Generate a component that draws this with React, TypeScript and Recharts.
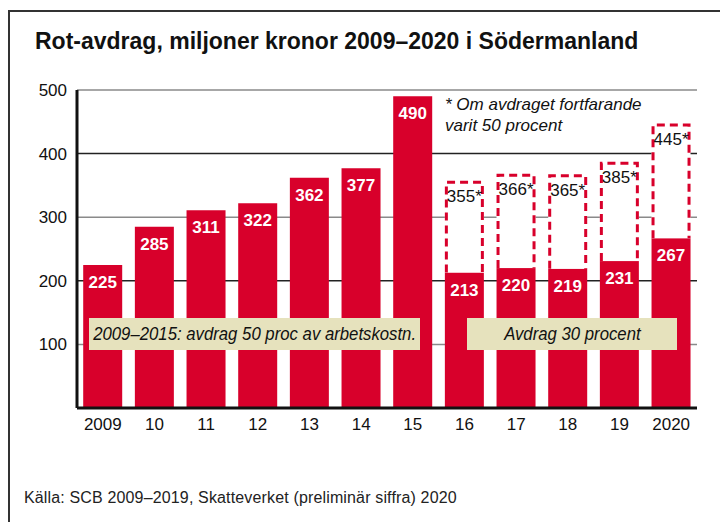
import { Bar, BarChart, CartesianGrid, LabelList, XAxis, YAxis } from "recharts";

const years = ["2009", "10", "11", "12", "13", "14", "15", "16", "17", "18", "19", "2020"];
const deduction = [225, 285, 311, 322, 362, 377, 490, 213, 220, 219, 231, 267];
// value if the deduction had stayed at 50 percent
const fiftyPercent = [null, null, null, null, null, null, null, 355, 366, 365, 385, 445];
const yTicks = [100, 200, 300, 400, 500];

const RED = "#d8002b";
const BEIGE = "#e6e2bd";
const FONT = "'Liberation Sans', Arial, Helvetica, sans-serif";

const chartData = years.map((year, i) => ({
  year,
  value: deduction[i],
  extra: fiftyPercent[i] == null ? 0 : (fiftyPercent[i] as number) - deduction[i],
  hyp: fiftyPercent[i],
}));

function DashedBox(props: any) {
  const { x, y, width, height, payload } = props;
  if (!payload || payload.hyp == null) return null;
  const l = x + 1.5;
  const r = x + width - 1.5;
  const b = y + height;
  return (
    <g>
      <rect x={x} y={y} width={width} height={height} fill="#fff" />
      <path
        d={`M${l},${b} L${l},${y} L${r},${y} L${r},${b}`}
        fill="none"
        stroke={RED}
        strokeWidth={3}
        strokeDasharray="8 5"
      />
    </g>
  );
}

function ValueLabel(props: any) {
  const { x, y, width, value } = props;
  return (
    <text
      x={x + width / 2}
      y={y + 23}
      textAnchor="middle"
      fill="#fff"
      fontFamily={FONT}
      fontWeight="bold"
      fontSize={17}
    >
      {value}
    </text>
  );
}

function HypLabel(props: any) {
  const { x, y, value } = props;
  if (value == null) return null;
  return (
    <text x={x + 2} y={y + 20} textAnchor="start" fill="#111" fontFamily={FONT} fontSize={17}>
      {`${value}*`}
    </text>
  );
}

const noteBox = {
  position: "absolute" as const,
  top: 318,
  height: 32,
  background: BEIGE,
  display: "flex",
  alignItems: "center",
  justifyContent: "center",
  fontFamily: FONT,
  fontStyle: "italic",
  fontSize: 18,
  color: "#111",
  whiteSpace: "nowrap" as const,
};

const squeeze = { display: "inline-block", transform: "scaleX(0.93)" };

export default function App() {
  return (
    <div
      style={{
        position: "absolute",
        left: 0,
        top: 0,
        width: 720,
        height: 522,
        background: "#fff",
        overflow: "hidden",
        fontFamily: FONT,
      }}
    >
      <div style={{ position: "absolute", left: 8, top: 10, width: 712, height: 2, background: "#333" }} />
      <div style={{ position: "absolute", left: 8, top: 10, width: 2, height: 512, background: "#333" }} />
      <div
        style={{
          position: "absolute",
          left: 35,
          top: 28,
          fontSize: 23,
          fontWeight: "bold",
          color: "#111",
          whiteSpace: "nowrap",
        }}
      >
        Rot-avdrag, miljoner kronor 2009–2020 i Södermanland
      </div>

      <div style={{ position: "absolute", left: 0, top: 0 }}>
        <BarChart
          width={720}
          height={522}
          data={chartData}
          margin={{ top: 90, right: 23, bottom: 84, left: 0 }}
          barCategoryGap="12%"
        >
          <CartesianGrid vertical={false} horizontalValues={[100, 300, 500]} stroke="#8a8a8a" strokeWidth={1.5} />
          <CartesianGrid vertical={false} horizontalValues={[200, 400]} stroke="#222" strokeWidth={1.5} />
          <XAxis
            dataKey="year"
            height={30}
            tickLine={false}
            tickSize={0}
            tickMargin={10}
            axisLine={{ stroke: "#111", strokeWidth: 3 }}
            tick={{ fill: "#111", fontSize: 17, fontFamily: FONT }}
            interval={0}
          />
          <YAxis
            width={77}
            domain={[0, 500]}
            ticks={yTicks}
            tickLine={false}
            tickSize={0}
            tickMargin={10}
            axisLine={{ stroke: "#111", strokeWidth: 3 }}
            tick={{ fill: "#111", fontSize: 17, fontFamily: FONT }}
          />
          <Bar dataKey="value" stackId="a" fill={RED} isAnimationActive={false}>
            <LabelList dataKey="value" content={ValueLabel} />
          </Bar>
          <Bar dataKey="extra" stackId="a" shape={DashedBox} isAnimationActive={false}>
            <LabelList dataKey="hyp" content={HypLabel} />
          </Bar>
        </BarChart>
      </div>

      <div
        style={{
          position: "absolute",
          left: 445,
          top: 94,
          fontSize: 17,
          fontStyle: "italic",
          lineHeight: "21px",
          color: "#111",
          whiteSpace: "nowrap",
        }}
      >
        * Om avdraget fortfarande
        <br />
        varit 50 procent
      </div>

      <div style={{ ...noteBox, left: 89, width: 331 }}>
        <span style={squeeze}>2009–2015: avdrag 50 proc av arbetskostn.</span>
      </div>
      <div style={{ ...noteBox, left: 467, width: 210 }}>
        <span style={squeeze}>Avdrag 30 procent</span>
      </div>

      <div
        style={{
          position: "absolute",
          left: 24,
          top: 489,
          fontSize: 16,
          letterSpacing: 0.15,
          color: "#222",
          whiteSpace: "nowrap",
        }}
      >
        Källa: SCB 2009–2019, Skatteverket (preliminär siffra) 2020
      </div>
    </div>
  );
}
